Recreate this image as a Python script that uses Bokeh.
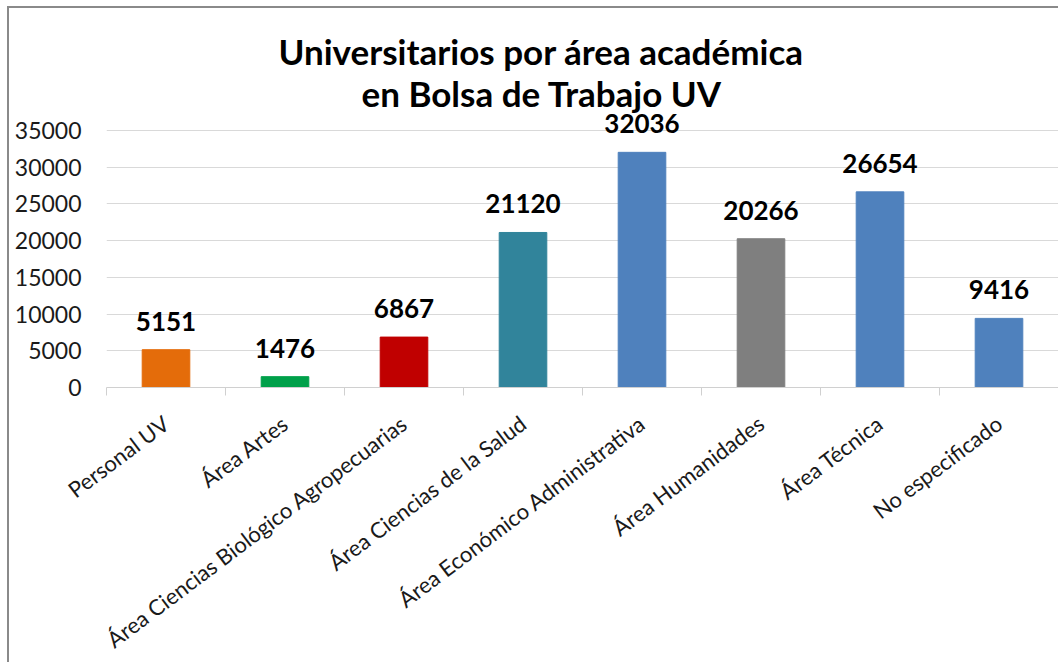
from bokeh.plotting import figure
from bokeh.models import ColumnDataSource, FixedTicker, LabelSet, Title, Range1d
from bokeh.core.properties import value
from bokeh.embed import file_html
from bokeh.resources import INLINE

categories = ["Personal UV", "Área Artes", "Área Ciencias Biológico Agropecuarias",
              "Área Ciencias de la Salud", "Área Económico Administrativa",
              "Área Humanidades", "Área Técnica", "No especificado"]
values = [5151, 1476, 6867, 21120, 32036, 20266, 26654, 9416]
colors = ["#E46C0A", "#00A04A", "#C00000", "#31849B", "#4F81BD", "#7F7F7F", "#4F81BD", "#4F81BD"]
y_ticks = [0, 5000, 10000, 15000, 20000, 25000, 30000, 35000]
title_lines = ["Universitarios por área académica", "en Bolsa de Trabajo UV"]

FONT = "Lato"
xs = list(range(len(categories)))
src = ColumnDataSource(dict(x=xs, top=values, color=colors, label=[str(v) for v in values]))

p = figure(output_backend="svg", toolbar_location=None,
           frame_width=952, frame_height=276,
           x_range=Range1d(-0.5, len(categories) - 0.5), y_range=Range1d(0, 37600),
           min_border_left=97, min_border_right=0, min_border_top=103, min_border_bottom=261)
p.styles = {"margin-left": "7px", "margin-top": "6px",
            "border-left": "2px solid #8a8a8a", "border-top": "2px solid #8a8a8a"}
p.outline_line_color = None
p.background_fill_color = "white"
p.border_fill_color = "white"

p.vbar(x="x", top="top", width=0.4, color="color", source=src)

labels = LabelSet(x="x", y="top", text="label", source=src, text_align="center",
                  text_baseline="alphabetic", y_offset=19, text_font=value(FONT),
                  text_font_style="bold", text_font_size="26px", text_color="#000000")
p.add_layout(labels)

# title (two lines)
p.title.text = title_lines[0]
p.title.text_font = FONT
p.title.text_font_size = "35px"
p.title.text_font_style = "bold"
p.title.text_color = "#000000"
p.title.align = "left"
p.title.offset = 172
p.title.standoff = 0
t2 = Title(text=title_lines[1], text_font=FONT, text_font_size="35px", text_font_style="bold",
           text_color="#000000", align="left", offset=255, standoff=-4)
p.add_layout(t2, "above")

# y axis
p.yaxis.ticker = FixedTicker(ticks=y_ticks)
p.yaxis.axis_line_color = None
p.yaxis.major_tick_line_color = None
p.yaxis.major_tick_out = 0
p.yaxis.major_tick_in = 0
p.yaxis.minor_tick_line_color = None
p.yaxis.major_label_text_font = FONT
p.yaxis.major_label_text_font_size = "23px"
p.yaxis.major_label_text_color = "#1a1a1a"
p.yaxis.major_label_standoff = 25

# x axis
boundaries = [i - 0.5 for i in range(len(categories) + 1)]
p.xaxis.ticker = FixedTicker(ticks=xs, minor_ticks=boundaries)
p.xaxis.major_label_overrides = {i: c for i, c in zip(xs, categories)}
p.xaxis.major_label_orientation = 0.645
p.xaxis.major_label_text_font = FONT
p.xaxis.major_label_text_font_size = "22px"
p.xaxis.major_label_text_color = "#1a1a1a"
p.xaxis.major_tick_line_color = None
p.xaxis.minor_tick_line_color = "#d0d0d0"
p.xaxis.minor_tick_out = 8
p.xaxis.minor_tick_in = 0
p.xaxis.axis_line_color = "#d0d0d0"
p.xaxis.axis_line_width = 1
p.xaxis.major_label_standoff = 25

p.xgrid.grid_line_color = None
p.ygrid.ticker = FixedTicker(ticks=y_ticks)
p.ygrid.grid_line_color = "#d9d9d9"
p.ygrid.grid_line_width = 1

open("out.html", "w").write(file_html(p, INLINE))
